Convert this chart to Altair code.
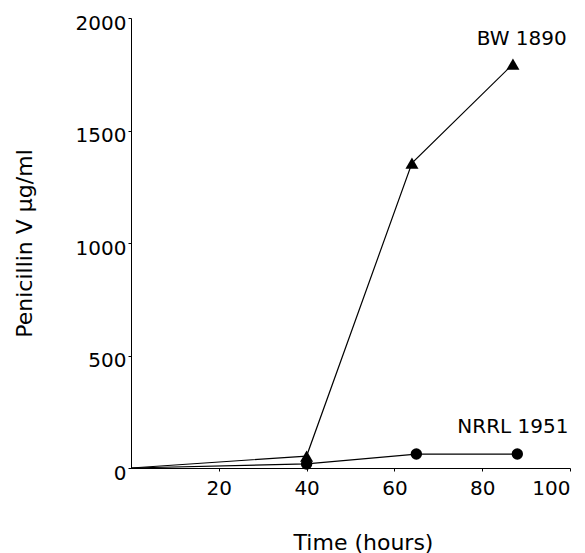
import altair as alt
import pandas as pd

series_names = ["BW 1890", "NRRL 1951"]
time_bw = [0, 40, 64, 87]
pen_bw = [0, 53, 1355, 1795]
time_nrrl = [0, 40, 65, 88]
pen_nrrl = [0, 18, 62, 62]
label_text = ["BW\u00a01890", "NRRL\u00a01951"]
label_x = [89, 87]
label_y = [1907, 182]
x_ticks = [20, 40, 60, 80, 100]
y_ticks = [0, 500, 1000, 1500, 2000]

rows = []
for t, p in zip(time_bw, pen_bw):
    rows.append({"series": series_names[0], "time": t, "pen": p})
for t, p in zip(time_nrrl, pen_nrrl):
    rows.append({"series": series_names[1], "time": t, "pen": p})
df = pd.DataFrame(rows)
labels = pd.DataFrame({"text": label_text, "time": label_x, "pen": label_y})

FONT = "DejaVu Sans"

x = alt.X("time:Q", scale=alt.Scale(domain=[0, 100], nice=False),
          axis=alt.Axis(values=x_ticks, title="Time (hours)", grid=False, format="d",
                        domainColor="black", tickColor="black", tickSize=3,
                        labelFont=FONT, labelFontSize=20, labelColor="black",
                        titleFont=FONT, titleFontSize=22, titleFontWeight="normal",
                        titleColor="black", titlePadding=34, labelPadding=7,
                        titleX=232, titleAlign="center"))
y = alt.Y("pen:Q", scale=alt.Scale(domain=[0, 2000], nice=False),
          axis=alt.Axis(values=y_ticks, title="Penicillin V µg/ml", grid=False, format="d",
                        domainColor="black", tickColor="black", tickSize=3,
                        labelFont=FONT, labelFontSize=20, labelColor="black",
                        labelOffset=5,
                        titleFont=FONT, titleFontSize=22, titleFontWeight="normal",
                        titleColor="black", titlePadding=39, labelPadding=2))

lines = alt.Chart(df).mark_line(color="black", strokeWidth=1.2).encode(
    x=x, y=y, detail="series:N")

points = alt.Chart(df).transform_filter("datum.time > 0").mark_point(
    filled=True, color="black", opacity=1, size=130).encode(
    x=x, y=y,
    shape=alt.Shape("series:N", scale=alt.Scale(domain=series_names,
                                                range=["triangle-up", "circle"]),
                    legend=None),
    size=alt.Size("series:N", scale=alt.Scale(domain=series_names, range=[170, 130]),
                  legend=None))

text = alt.Chart(labels).mark_text(font=FONT, fontSize=20, color="black",
                                   align="center", baseline="middle").encode(
    x=x, y=y, text="text:N")

chart = alt.layer(lines, points, text).properties(
    width=439, height=450, background="white"
).configure_view(stroke=None)

chart.save("out.html", embed_options={"renderer": "svg", "actions": False})
